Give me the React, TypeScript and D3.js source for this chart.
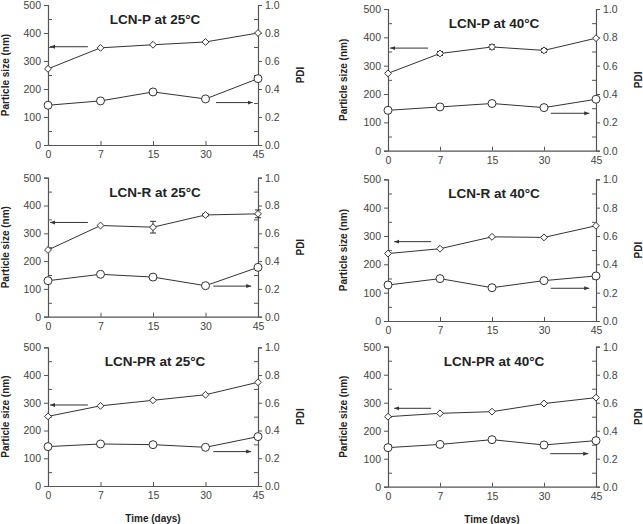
import React, { useEffect, useRef } from 'react';
import * as d3 from 'd3';

// x categories (days), equally spaced on the plot
const days = ['0', '7', '15', '30', '45'];

const titles = [
  'LCN-P at 25°C', 'LCN-P at 40°C',
  'LCN-R at 25°C', 'LCN-R at 40°C',
  'LCN-PR at 25°C', 'LCN-PR at 40°C',
];

// particle size (nm)
const sizeP25 = [272, 347, 358, 368, 400];
const sizeP40 = [273, 343, 366, 354, 397];
const sizeR25 = [240, 328, 322, 366, 370];
const sizeR40 = [238, 255, 297, 295, 336];
const sizePR25 = [251, 289, 309, 329, 374];
const sizePR40 = [250, 262, 268, 297, 318];

// error bars on particle size (nm)
const errP25 = [0, 0, 0, 0, 0];
const errP40 = [0, 7, 8, 7, 0];
const errR25 = [0, 0, 21, 5, 14];
const errR40 = [0, 0, 0, 0, 0];
const errPR25 = [0, 0, 0, 0, 0];
const errPR40 = [0, 0, 0, 0, 0];

// PDI
const pdiP25 = [0.284, 0.315, 0.379, 0.329, 0.474];
const pdiP40 = [0.285, 0.309, 0.333, 0.304, 0.363];
const pdiR25 = [0.259, 0.305, 0.285, 0.223, 0.355];
const pdiR40 = [0.254, 0.299, 0.235, 0.285, 0.318];
const pdiPR25 = [0.284, 0.303, 0.298, 0.279, 0.356];
const pdiPR40 = [0.279, 0.302, 0.336, 0.298, 0.329];

// arrow annotations: level on the axis they point to, and start/end as category index
const arrowSizeLevel = [351, 362, 339, 280, 292, 280];
const arrowSizeSpan = [[0.76, 0.04], [0.77, 0.04], [0.76, 0.04], [0.83, 0.12], [0.76, 0.04], [0.83, 0.12]];
const arrowPdiLevel = [0.303, 0.264, 0.22, 0.231, 0.248, 0.236];
const arrowPdiSpan = [[3.2, 3.9], [3.13, 3.87], [3.15, 3.87], [3.13, 3.87], [3.15, 3.87], [3.12, 3.85]];

const sizeTicks = [0, 100, 200, 300, 400, 500];
const pdiTicks = [0, 0.2, 0.4, 0.6, 0.8, 1.0];

const sizes = [sizeP25, sizeP40, sizeR25, sizeR40, sizePR25, sizePR40];
const errs = [errP25, errP40, errR25, errR40, errPR25, errPR40];
const pdis = [pdiP25, pdiP40, pdiR25, pdiR40, pdiPR25, pdiPR40];

// plot boxes [left, right, top, bottom]
const boxes = [
  [48, 258, 5, 145], [388, 596, 9, 150.7],
  [48, 258, 177.7, 316.7], [388, 596, 179.3, 321],
  [48, 258, 347.3, 486], [388, 596, 346.7, 486.7],
];

const W = 643;
const H = 524;
const axisColor = '#555';
const lineColor = '#333';
const textColor = '#444';
const font = 'Arial, "Liberation Sans", Helvetica, sans-serif';

export default function App() {
  const ref = useRef(null);

  useEffect(() => {
    const svg = d3.select(ref.current);
    svg.selectAll('*').remove();

    svg.append('defs').append('marker')
      .attr('id', 'ah')
      .attr('viewBox', '0 0 10 10')
      .attr('refX', 10).attr('refY', 5)
      .attr('markerWidth', 5).attr('markerHeight', 5)
      .attr('markerUnits', 'userSpaceOnUse')
      .attr('orient', 'auto')
      .append('path').attr('d', 'M0,1 L10,5 L0,9 Z').attr('fill', lineColor);

    boxes.forEach((b, p) => {
      const [x0, x1, y0, y1] = b;
      const x = d3.scaleLinear().domain([0, days.length - 1]).range([x0, x1]);
      const yS = d3.scaleLinear().domain([0, 500]).range([y1, y0]);
      const yP = d3.scaleLinear().domain([0, 1]).range([y1, y0]);
      const g = svg.append('g');

      // left axis
      g.append('g').attr('transform', `translate(${x0},0)`)
        .call(d3.axisLeft(yS).tickValues(sizeTicks).tickSize(4).tickPadding(3));
      g.append('g').attr('transform', `translate(${x0},0)`)
        .call(d3.axisRight(yS).tickValues(d3.range(50, 500, 100)).tickSize(4).tickFormat(() => ''))
        .select('.domain').remove();

      // right axis
      g.append('g').attr('transform', `translate(${x1},0)`)
        .call(d3.axisRight(yP).tickValues(pdiTicks).tickSize(4).tickPadding(3).tickFormat(d3.format('.1f')));
      g.append('g').attr('transform', `translate(${x1},0)`)
        .call(d3.axisLeft(yP).tickValues(d3.range(0.1, 1, 0.2)).tickSize(4).tickFormat(() => ''))
        .select('.domain').remove();

      // bottom axis
      g.append('g').attr('transform', `translate(0,${y1})`)
        .call(d3.axisBottom(x).tickValues(d3.range(days.length)).tickSize(0).tickPadding(6)
          .tickFormat((i) => days[i]));
      g.append('g').attr('transform', `translate(0,${y1})`)
        .call(d3.axisTop(x).tickValues(d3.range(days.length)).tickSize(4).tickFormat(() => ''))
        .select('.domain').remove();

      g.selectAll('.domain').attr('stroke', axisColor).attr('stroke-width', 1.2);
      g.selectAll('.tick line').attr('stroke', axisColor).attr('stroke-width', 1);
      g.selectAll('.tick text').attr('fill', textColor).attr('font-size', 10.5).attr('font-family', font);

      // lines
      const lineS = d3.line().x((d, i) => x(i)).y((d) => yS(d));
      const lineP = d3.line().x((d, i) => x(i)).y((d) => yP(d));
      g.append('path').datum(sizes[p]).attr('d', lineS)
        .attr('fill', 'none').attr('stroke', lineColor).attr('stroke-width', 1);
      g.append('path').datum(pdis[p]).attr('d', lineP)
        .attr('fill', 'none').attr('stroke', lineColor).attr('stroke-width', 1);

      // error bars
      sizes[p].forEach((v, i) => {
        const e = errs[p][i];
        if (!e) return;
        const cx = x(i);
        const path = `M${cx},${yS(v - e)}V${yS(v + e)}M${cx - 3},${yS(v - e)}H${cx + 3}M${cx - 3},${yS(v + e)}H${cx + 3}`;
        g.append('path').attr('d', path).attr('stroke', lineColor).attr('fill', 'none').attr('stroke-width', 1);
      });

      // markers
      g.selectAll('.dia').data(sizes[p]).enter().append('path')
        .attr('d', d3.symbol(d3.symbolDiamond2, 30))
        .attr('transform', (d, i) => `translate(${x(i)},${yS(d)})`)
        .attr('fill', '#fff').attr('stroke', lineColor).attr('stroke-width', 1);
      g.selectAll('.cir').data(pdis[p]).enter().append('circle')
        .attr('cx', (d, i) => x(i)).attr('cy', (d) => yP(d)).attr('r', 4)
        .attr('fill', '#fff').attr('stroke', lineColor).attr('stroke-width', 1);

      // arrows
      const sa = arrowSizeSpan[p];
      g.append('line')
        .attr('x1', x(sa[0])).attr('x2', x(sa[1]))
        .attr('y1', yS(arrowSizeLevel[p])).attr('y2', yS(arrowSizeLevel[p]))
        .attr('stroke', lineColor).attr('stroke-width', 1).attr('marker-end', 'url(#ah)');
      const pa = arrowPdiSpan[p];
      g.append('line')
        .attr('x1', x(pa[0])).attr('x2', x(pa[1]))
        .attr('y1', yP(arrowPdiLevel[p])).attr('y2', yP(arrowPdiLevel[p]))
        .attr('stroke', lineColor).attr('stroke-width', 1).attr('marker-end', 'url(#ah)');

      // title
      g.append('text').attr('x', (x0 + x1) / 2 + 2).attr('y', y0 + 19)
        .attr('text-anchor', 'middle').attr('font-family', font).attr('font-weight', 'bold')
        .attr('font-size', 13.5).attr('fill', '#222').text(titles[p]);

      // axis titles
      const my = (y0 + y1) / 2;
      g.append('text').attr('transform', `translate(${Math.max(x0 - 41, 9)},${my}) rotate(-90)`)
        .attr('text-anchor', 'middle').attr('font-family', font).attr('font-weight', 'bold')
        .attr('font-size', 10).attr('fill', '#222').text('Particle size (nm)');
      g.append('text').attr('transform', `translate(${x1 + 46},${my}) rotate(-90)`)
        .attr('text-anchor', 'middle').attr('font-family', font).attr('font-weight', 'bold')
        .attr('font-size', 10).attr('fill', '#222').text('PDI');

      if (p >= 4) {
        g.append('text').attr('x', (x0 + x1) / 2).attr('y', y1 + 36)
          .attr('text-anchor', 'middle').attr('font-family', font).attr('font-weight', 'bold')
          .attr('font-size', 10).attr('fill', '#222').text('Time (days)');
      }
    });
  }, []);

  return (
    <svg ref={ref} width={W} height={H}
      style={{ position: 'absolute', left: 0, top: 0, background: '#fff' }} />
  );
}
